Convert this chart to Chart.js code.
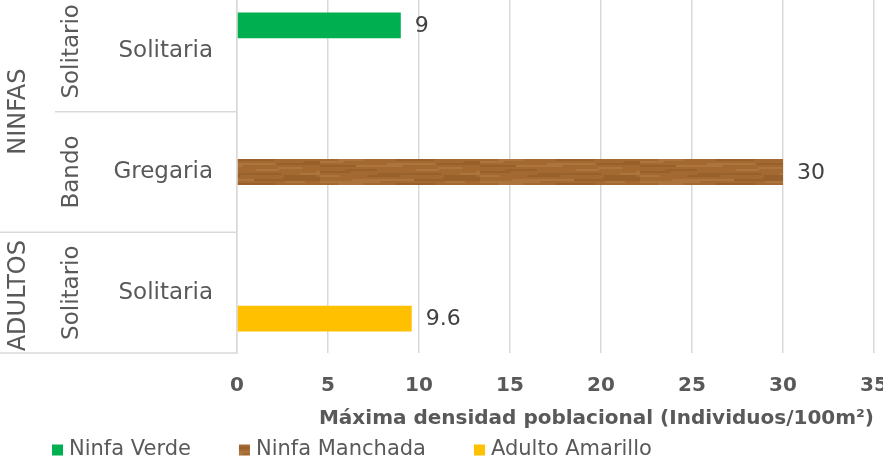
<!DOCTYPE html>
<html>
<head>
<meta charset="utf-8">
<script src="https://cdn.jsdelivr.net/npm/chart.js@4/dist/chart.umd.min.js"></script>
<style>
  html, body { margin: 0; padding: 0; background: #ffffff; overflow: hidden; }
  #wrap { position: relative; width: 883px; height: 462px; overflow: hidden; background: #fff; }
  #c { position: absolute; left: 0; top: -9px; }
</style>
</head>
<body>
<div id="wrap"><canvas id="c" width="900" height="471"></canvas></div>
<script>
// ---- data ----
const categories = ['Solitaria', 'Gregaria', 'Solitaria'];
const subGroups = ['Solitario', 'Bando', 'Solitario'];
const groupLabels = ['NINFAS', 'ADULTOS'];
const groupSizes = [2, 1];
const seriesNames = ['Ninfa Verde', 'Ninfa Manchada', 'Adulto Amarillo'];
const ninfaVerde = [9, null, null];
const ninfaManchada = [null, 30, null];
const adultoAmarillo = [null, null, 9.6];
const xTicks = [0, 5, 10, 15, 20, 25, 30, 35];
const xTitle = 'Máxima densidad poblacional (Individuos/100m²)';

// ---- styles ----
const FONT = 'DejaVu Sans';
const GREY = '#595959';
const LINE = '#d9d9d9';

function woodPattern() {
  const W = 160, H = 24;
  const pc = document.createElement('canvas');
  pc.width = W; pc.height = H;
  const g = pc.getContext('2d');
  g.fillStyle = '#a3682f';
  g.fillRect(0, 0, W, H);
  // deterministic soft horizontal grain
  for (let y = 0; y < H; y += 2) {
    let x = 0, k = 0;
    while (x < W) {
      const t = Math.sin(y * 0.9 + k * 1.7) + 0.6 * Math.cos(y * 0.35 - k * 0.8);
      const len = 18 + ((k * 7 + y * 3) % 23);
      if (t > 0.8) g.fillStyle = 'rgba(188,138,84,0.40)';
      else if (t < -0.8) g.fillStyle = 'rgba(130,78,34,0.30)';
      else g.fillStyle = 'rgba(172,116,62,0.15)';
      g.fillRect(x, y, len, 2);
      x += len; k++;
    }
  }
  return pc;
}
const ctx = document.getElementById('c').getContext('2d');
const wood = ctx.createPattern(woodPattern(), 'repeat');
const seriesColors = ['#00b050', wood, '#ffc000'];

const multiLevelPlugin = {
  id: 'multiLevel',
  afterDraw(chart) {
    const y = chart.scales.y;
    const c = chart.ctx;
    const n = categories.length;
    const px = i => y.getPixelForValue(i);
    const half = n > 1 ? (px(1) - px(0)) / 2 : y.height / 2;
    const bounds = [];
    for (let i = 0; i <= n; i++) bounds.push(i === 0 ? px(0) - half : px(i - 1) + half);
    const axisX = chart.chartArea.left;
    c.save();
    c.strokeStyle = LINE;
    c.lineWidth = 1.5;
    const groupEnds = new Set();
    let acc = 0;
    groupSizes.forEach(s => { acc += s; groupEnds.add(acc); });
    for (let i = 1; i <= n; i++) {
      const x0 = groupEnds.has(i) ? 0 : 55;
      c.beginPath();
      c.moveTo(x0, bounds[i]);
      c.lineTo(axisX, bounds[i]);
      c.stroke();
    }
    c.fillStyle = GREY;
    c.textAlign = 'center';
    c.textBaseline = 'middle';
    c.font = '23px "' + FONT + '"';
    subGroups.forEach((t, i) => {
      c.save();
      c.translate(72, px(i));
      c.rotate(-Math.PI / 2);
      c.fillText(t, 0, 0);
      c.restore();
    });
    c.font = '24px "' + FONT + '"';
    let start = 0;
    groupLabels.forEach((t, gi) => {
      const end = start + groupSizes[gi];
      const mid = (bounds[start] + bounds[end]) / 2;
      c.save();
      c.translate(19, mid + (gi === groupLabels.length - 1 ? 3 : 0));
      c.rotate(-Math.PI / 2);
      c.fillText(t, 0, 0);
      c.restore();
      start = end;
    });
    // legend
    c.font = '21px "' + FONT + '"';
    c.textAlign = 'left';
    let lx = 52;
    const ly = 459;
    chart.data.datasets.forEach(ds => {
      c.fillStyle = ds.backgroundColor;
      c.fillRect(lx, ly - 5.5, 11, 11);
      c.fillStyle = GREY;
      c.fillText(ds.label, lx + 17, ly);
      lx += 17 + c.measureText(ds.label).width + 48;
    });
    c.restore();
  }
};

const valueLabelPlugin = {
  id: 'valueLabels',
  afterDatasetsDraw(chart) {
    const c = chart.ctx;
    c.save();
    c.font = '22px "' + FONT + '"';
    c.fillStyle = '#404040';
    c.textAlign = 'left';
    c.textBaseline = 'middle';
    chart.data.datasets.forEach((ds, di) => {
      const meta = chart.getDatasetMeta(di);
      meta.data.forEach((el, i) => {
        const v = ds.data[i];
        if (v === null || v === undefined) return;
        c.fillText(String(v), el.x + 14, el.y + 1);
      });
    });
    c.restore();
  }
};

new Chart(ctx, {
  type: 'bar',
  data: {
    labels: categories,
    datasets: [
      { label: seriesNames[0], data: ninfaVerde, backgroundColor: seriesColors[0] },
      { label: seriesNames[1], data: ninfaManchada, backgroundColor: seriesColors[1] },
      { label: seriesNames[2], data: adultoAmarillo, backgroundColor: seriesColors[2] }
    ]
  },
  options: {
    indexAxis: 'y',
    responsive: false,
    animation: false,
    devicePixelRatio: 1,
    categoryPercentage: 0.645,
    barPercentage: 1.0,
    layout: { padding: { left: 0, right: 26, top: 0, bottom: 0 } },
    plugins: { legend: { display: false }, tooltip: { enabled: false } },
    scales: {
      x: {
        min: 0, max: 35,
        afterBuildTicks: s => { s.ticks = xTicks.map(v => ({ value: v })); },
        afterFit: s => { s.height = 109; s.paddingLeft = 0; s.paddingRight = 0; },
        grid: { color: LINE, lineWidth: 1.5, drawTicks: false },
        border: { display: false },
        ticks: { font: { family: FONT, size: 20, weight: 'bold' }, color: GREY, padding: 21, maxRotation: 0 },
        title: {
          display: true, text: xTitle, align: 'end',
          font: { family: FONT, size: 20, weight: 'bold' }, color: GREY,
          padding: { top: 4, bottom: 31 }
        }
      },
      y: {
        afterFit: s => { s.width = 237; s.paddingTop = 0; s.paddingBottom = 0; },
        grid: { display: false, drawTicks: false },
        border: { display: true, color: LINE, width: 1.5 },
        ticks: { font: { family: FONT, size: 23 }, color: GREY, padding: 24 }
      }
    }
  },
  plugins: [multiLevelPlugin, valueLabelPlugin]
});
</script>
</body>
</html>
